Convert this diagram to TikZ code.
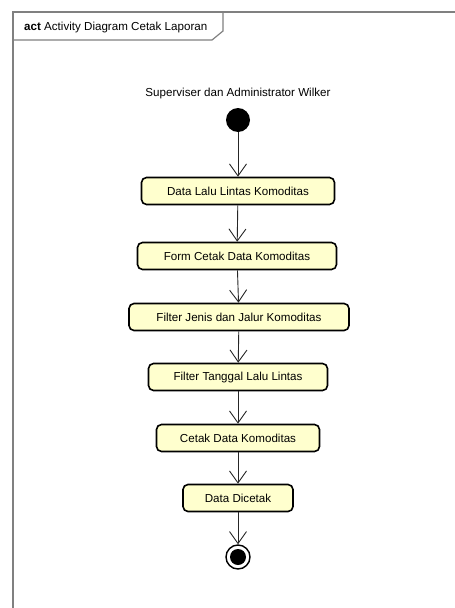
\documentclass[tikz,border=0pt]{standalone}
\usepackage{fontspec}
\setmainfont{Liberation Sans}
\usetikzlibrary{arrows.meta}
\definecolor{actfill}{RGB}{255,255,206}
\definecolor{framegray}{RGB}{128,128,128}
\begin{document}
\begin{tikzpicture}[x=1pt, y=-1pt,
  font=\fontsize{11.6}{13.5}\selectfont,
  action/.style={draw, line width=1.6pt, fill=actfill, rounded corners=5pt, minimum height=27pt, inner sep=0pt},
  flow/.style={draw=black!85, line width=0.9pt, -{Straight Barb[length=12pt,width=17pt,line width=0.9pt]}}]
\useasboundingbox (0,0) rectangle (455,608);
%frame
\draw [framegray, line width=1.2pt] (13,608) -- (13,12) -- (455,12);
\draw [framegray, line width=1.2pt] (13,40) -- (212,40) -- (223,31) -- (223,12);
\node [anchor=base west, inner sep=0pt] (title) at (24,30) {\textbf{act} Activity Diagram Cetak Laporan};
%swimlane label
\node (actor) at (238,93) {Superviser dan Administrator Wilker};
%start and end
\node [circle, fill=black, minimum size=24pt, inner sep=0pt] (start) at (238,120) {};
\node [circle, draw, line width=1.4pt, minimum size=24pt, inner sep=0pt] (stop) at (238,557) {};
\fill (stop.center) circle (8pt);
%actions
\node [action, minimum width=193pt] (a1) at (238,191) {Data Lalu Lintas Komoditas};
\node [action, minimum width=199pt] (a2) at (237,256) {Form Cetak Data Komoditas};
\node [action, minimum width=220pt] (a3) at (239,317) {Filter Jenis dan Jalur Komoditas};
\node [action, minimum width=179pt] (a4) at (238,377) {Filter Tanggal Lalu Lintas};
\node [action, minimum width=163pt] (a5) at (238,438) {Cetak Data Komoditas};
\node [action, minimum width=110pt] (a6) at (238,498) {Data Dicetak};
%flows
\draw [flow] (start) -- (a1);
\draw [flow] (a1) -- (a2);
\draw [flow] (a2) -- (a3);
\draw [flow] (a3) -- (a4);
\draw [flow] (a4) -- (a5);
\draw [flow] (a5) -- (a6);
\draw [flow] (a6) -- (stop);
\end{tikzpicture}
\end{document}
